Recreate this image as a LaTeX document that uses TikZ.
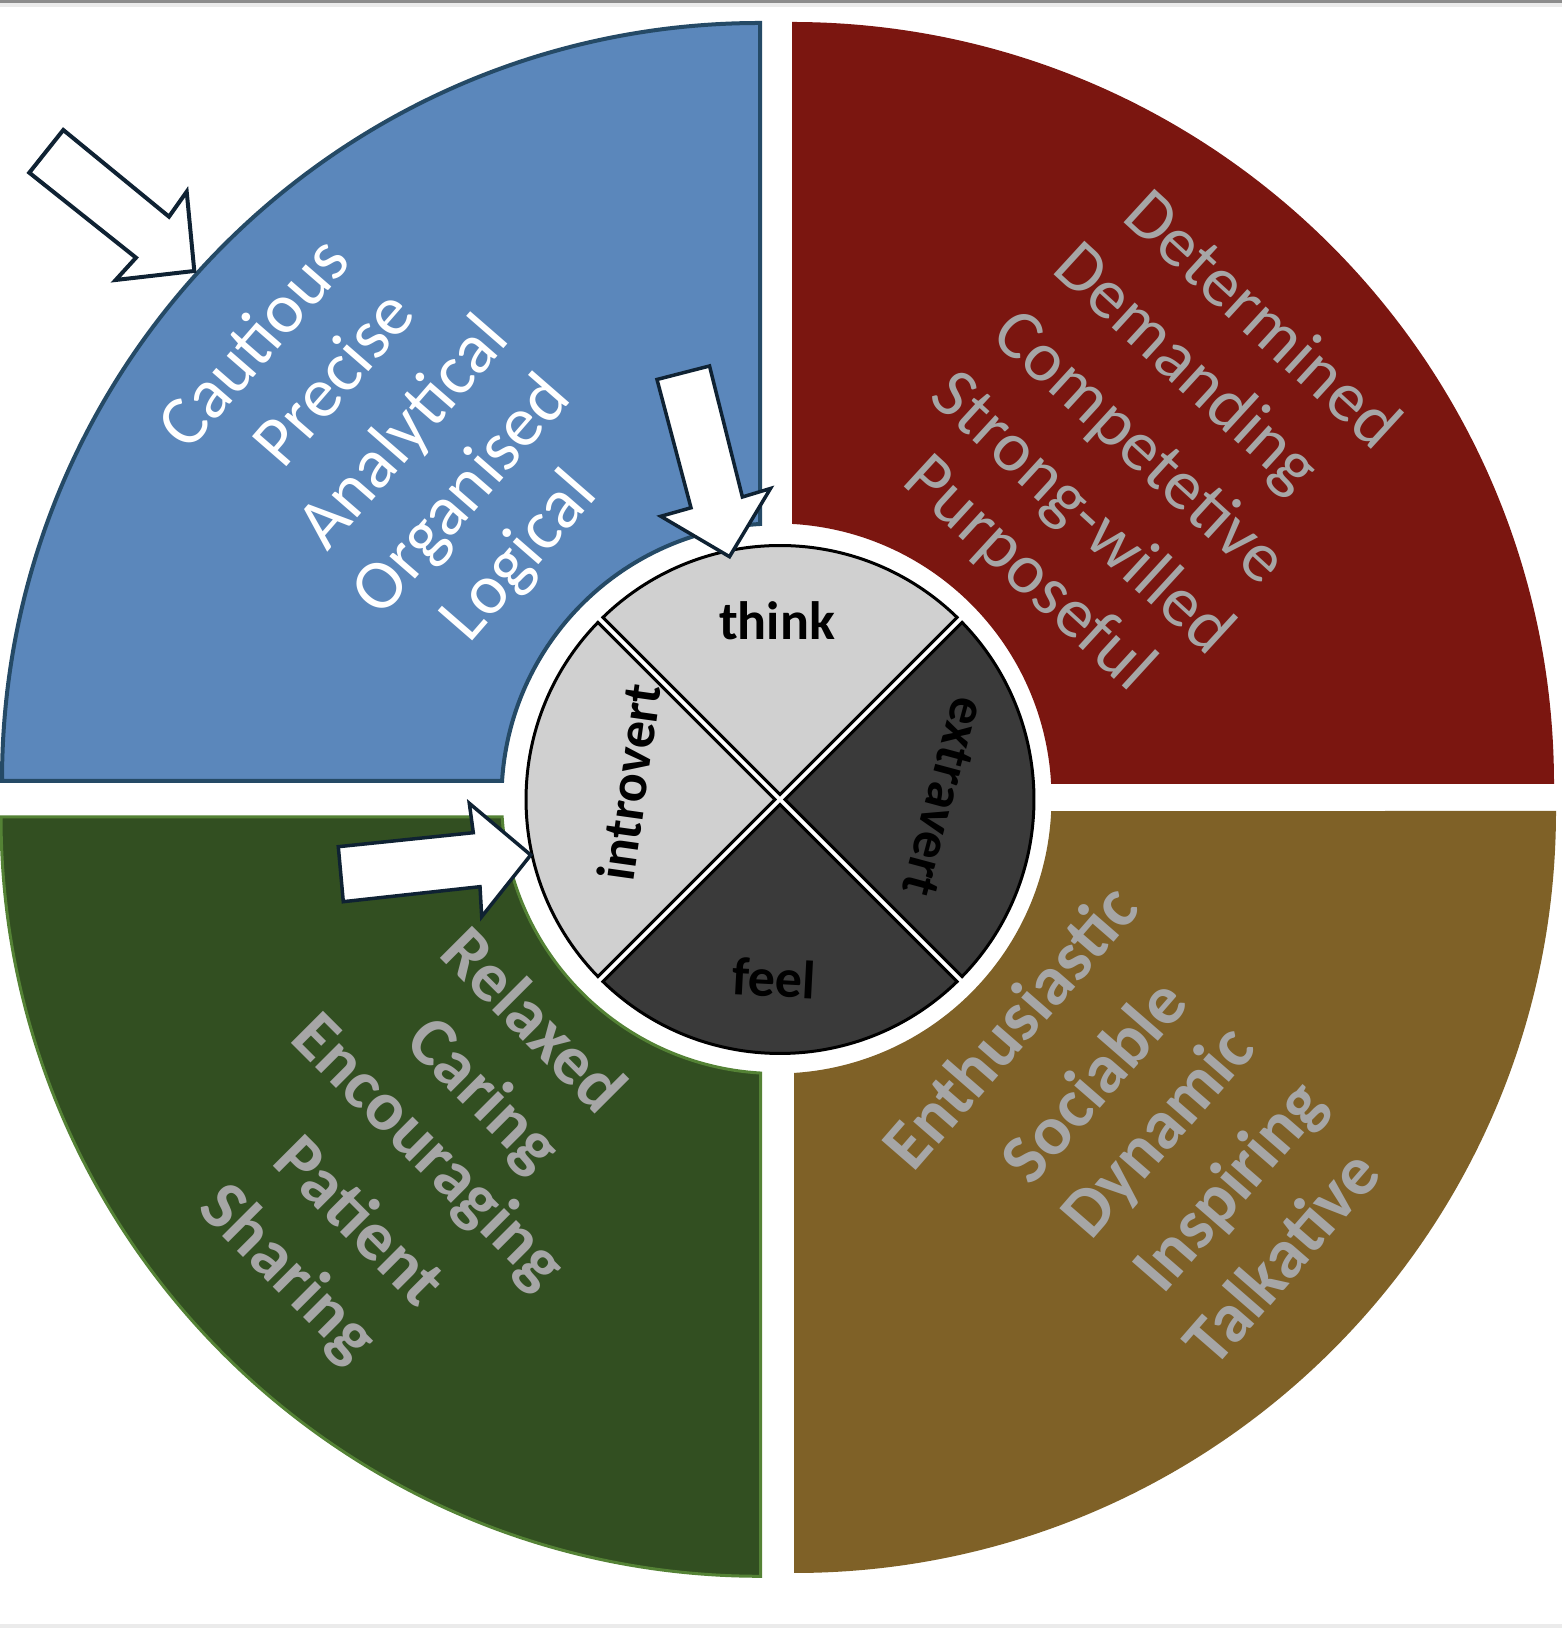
\documentclass[tikz,border=0pt]{standalone}
\usepackage{fontspec}
\setmainfont{Carlito}
\definecolor{qblue}{HTML}{5B87BB}
\definecolor{qblueline}{HTML}{254A66}
\definecolor{qred}{HTML}{7B1610}
\definecolor{qgreen}{HTML}{324F21}
\definecolor{qgreenline}{HTML}{548235}
\definecolor{qbrown}{HTML}{7F6127}
\definecolor{qtext}{HTML}{A6A6A6}
\definecolor{lightseg}{HTML}{D0D0D0}
\definecolor{darkseg}{HTML}{3A3A3A}
\definecolor{arrowline}{HTML}{0F2233}
\definecolor{topline}{HTML}{8C8C8C}
\definecolor{paleband}{HTML}{EBEBEB}
\begin{document}
\begin{tikzpicture}[x=1pt,y=1pt,
  word/.style={inner sep=0pt, font=\fontsize{71}{78}\selectfont},
  bword/.style={inner sep=0pt, font=\fontsize{70}{78}\selectfont\bfseries},
  seglabel/.style={inner sep=0pt, font=\fontsize{54}{60}\selectfont\bfseries, text=black},
  blockarrow/.style={fill=white, draw=arrowline, line width=3.5pt, line join=miter},
  segment/.style={draw=black, line width=3pt}]
\useasboundingbox (0,0) rectangle (1562,1628);
\fill[white] (0,0) rectangle (1562,1628);
\fill[topline] (0,1625) rectangle (1562,1628);
\fill[paleband] (0,1621) rectangle (1562,1625);
\fill[paleband] (0,0) rectangle (1562,4);

% quadrants
\path[fill=qblue, draw=qblueline, line width=4pt]
  (2,847) arc[start angle=180, end angle=90, radius=758] -- (760,1104.0)
  arc[start angle=93.44, end angle=176.35, radius=275] -- cycle;
\fill[qred]
  (1554,844) arc[start angle=0, end angle=90, radius=762] -- (792,1104.06)
  arc[start angle=86.77, end angle=3.02, radius=275] -- cycle;
\path[fill=qgreen, draw=qgreenline, line width=3pt]
  (1,811.2) arc[start angle=180, end angle=270, radius=759.5] -- (760.5,554.97)
  arc[start angle=266.66, end angle=183.82, radius=275] -- cycle;
\fill[qbrown]
  (1556,817) arc[start angle=0, end angle=-90, radius=762] -- (794,555.06)
  arc[start angle=-86.35, end angle=-2.61, radius=275] -- cycle;

% centre circle
\begin{scope}[shift={(780,828.5)}]
  \foreach \ang/\col in {90/lightseg, 180/lightseg, 0/darkseg, 270/darkseg}
    \path[segment, fill=\col] (\ang:5) -- ({\ang-44.2}:254)
      arc[start angle={\ang-44.2}, end angle={\ang+44.2}, radius=254] -- cycle;
\end{scope}
\node[seglabel] (think) at (777,1007) {think};
\node[seglabel, rotate=-3] (feel) at (774,650) {feel};
\node[seglabel, rotate=82] (introvert) at (629,846) {introvert};
\node[seglabel, rotate=-105] (extravert) at (944,831) {extravert};

% blue words
\node[word, text=white, rotate=49] (w1) at (252.4,1286.3) {Cautious};
\node[word, text=white, rotate=49] (w2) at (332.4,1251) {Precise};
\node[word, text=white, rotate=49] (w3) at (405.1,1193.9) {Analytical};
\node[word, text=white, rotate=49] (w4) at (463.2,1131.5) {Organised};
\node[word, text=white, rotate=49] (w5) at (520.3,1070.3) {Logical};

% red words
\node[word, text=qtext, rotate=-42.5] (r1) at (1264,1310.2) {Determined};
\node[word, text=qtext, rotate=-42.5] (r2) at (1185,1258.3) {Demanding};
\node[word, text=qtext, rotate=-42.5] (r3) at (1138.3,1179.3) {Competetive};
\node[word, text=qtext, rotate=-42.5] (r4) at (1081.2,1112.9) {Strong-willed};
\node[word, text=qtext, rotate=-42.5] (r5) at (1028.2,1053.7) {Purposeful};

% green words
\node[bword, text=qtext, rotate=-45] (g1) at (534.9,609.1) {Relaxed};
\node[bword, text=qtext, rotate=-45] (g2) at (481.9,531.2) {Caring};
\node[bword, text=qtext, rotate=-45] (g3) at (426.9,475.2) {Encouraging};
\node[bword, text=qtext, rotate=-45] (g4) at (361.4,408.7) {Patient};
\node[bword, text=qtext, rotate=-45] (g5) at (286.7,353.6) {Sharing};

% brown words
\node[bword, text=qtext, rotate=49] (b1) at (1009.5,601.9) {Enthusiastic};
\node[bword, text=qtext, rotate=49] (b2) at (1092.6,547.9) {Sociable};
\node[bword, text=qtext, rotate=49] (b3) at (1160.1,494.9) {Dynamic};
\node[bword, text=qtext, rotate=49] (b4) at (1231.8,439.8) {Inspiring};
\node[bword, text=qtext, rotate=49] (b5) at (1280.6,371.3) {Talkative};

% block arrows
\path[blockarrow, line width=4pt] (63.3,1498) -- (169,1411.3) -- (186.7,1436.3)
  -- (194.3,1357) -- (115.7,1348) -- (136,1370.3) -- (29.3,1455.3) -- cycle;
\path[blockarrow] (657,1248.5) -- (709.5,1262) -- (742.4,1131) -- (770.5,1139.5)
  -- (729.5,1071.3) -- (660.8,1111.7) -- (691,1120.2) -- cycle;
\path[blockarrow] (338.3,781.3) -- (473.3,795.3) -- (469.3,824.7) -- (530.7,773)
  -- (481.7,711.3) -- (480,741.3) -- (343.3,726.3) -- cycle;
\end{tikzpicture}
\end{document}
